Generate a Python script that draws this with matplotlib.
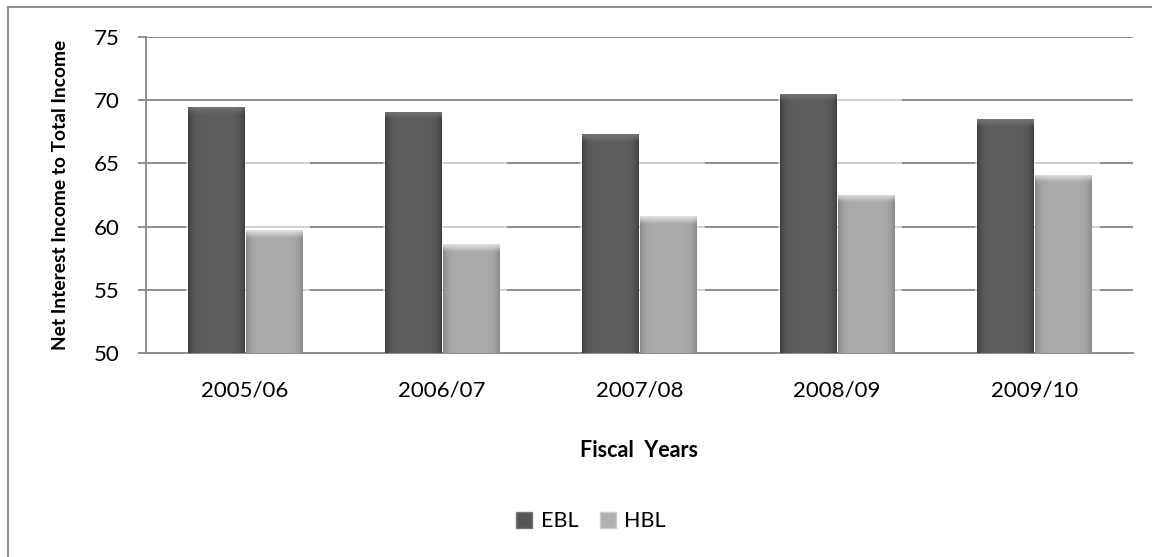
import numpy as np
import matplotlib
matplotlib.use("Agg")
import matplotlib.pyplot as plt
from matplotlib.patches import Patch, Rectangle
from matplotlib.lines import Line2D

# Data
years = ["2005/06", "2006/07", "2007/08", "2008/09", "2009/10"]
ebl = [69.5, 69.1, 67.3, 70.5, 68.5]
hbl = [59.7, 58.6, 60.8, 62.5, 64.1]
series_names = ["EBL", "HBL"]

plt.rcParams["font.family"] = ["Lato", "DejaVu Sans"]

fig = plt.figure(figsize=(11.52, 5.57), dpi=100)
ax = fig.add_axes([0.1267, 0.3662, 0.8568, 0.5674])

ymin, ymax = 50, 75
ax.set_ylim(ymin, ymax)
ax.set_xlim(-0.5, len(years) - 0.5)

width = 0.285
offset = 0.147
x = np.arange(len(years))


def shade(base, edge, top, value, bevel=0.6):
    """Build a shaded, bevelled gradient image for one bar."""
    h_rows, w_cols = 200, 60
    base = np.array(matplotlib.colors.to_rgb(base))
    edge = np.array(matplotlib.colors.to_rgb(edge))
    top = np.array(matplotlib.colors.to_rgb(top))
    u = np.linspace(-1, 1, w_cols)
    prof = np.clip(np.abs(u) ** 6, 0, 1)[None, :, None]
    img = base * (1 - prof) + edge * prof
    img = np.repeat(img, h_rows, axis=0)
    ys = np.linspace(value, ymin, h_rows)
    band = np.clip(1 - (value - ys) / bevel, 0, 1)[:, None, None]
    img = img * (1 - band * 0.8) + top * band * 0.8
    return img


bar_styles = [
    dict(base="#5e5e5e", edge="#3f3f3f", top="#7a7a7a"),
    dict(base="#ababab", edge="#8a8a8a", top="#f0f0f0"),
]

for i in range(len(years)):
    # soft backdrop behind each pair of bars
    top_val = max(ebl[i], hbl[i])
    ax.add_patch(Rectangle((x[i] - offset - width / 2 - 0.01, ymin),
                           2 * width + 0.06, top_val - ymin + 0.3,
                           facecolor="white", alpha=0.6, edgecolor="none",
                           zorder=1.5))

for vals, sign, st, name in [(ebl, -1, bar_styles[0], "EBL"),
                             (hbl, 1, bar_styles[1], "HBL")]:
    bars = ax.bar(x + sign * offset, vals, width=width, bottom=0,
                  color=st["base"], edgecolor="none", zorder=2, label=name)
    for b, v in zip(bars, vals):
        left = b.get_x()
        img = shade(st["base"], st["edge"], st["top"], v)
        im = ax.imshow(img, extent=(left, left + width, ymin, v),
                       aspect="auto", zorder=3, interpolation="bilinear")
        im.set_clip_path(b)

ax.set_ylim(ymin, ymax)
ax.set_xlim(-0.5, len(years) - 0.5)

# Grid and axes styling
ax.set_yticks(np.arange(50, 76, 5))
ax.yaxis.grid(True, color="#8c8c8c", linewidth=1.4, zorder=0)
ax.set_axisbelow(True)
for s in ["top", "right"]:
    ax.spines[s].set_visible(False)
for s in ["left", "bottom"]:
    ax.spines[s].set_color("#8c8c8c")
    ax.spines[s].set_linewidth(1.4)

ax.set_xticks(x)
ax.set_xticklabels(years)
ax.tick_params(axis="x", length=0, pad=20, labelsize=16, colors="black")
ax.tick_params(axis="y", length=6, width=1.4, color="#8c8c8c", pad=13,
               labelsize=16)

ax.set_xlabel("Fiscal  Years", fontsize=15.5, fontweight="bold", labelpad=28)
ax.set_ylabel("Net Interest Income to Total Income", fontsize=13.8,
              fontweight="bold", labelpad=18)

handles = [Patch(facecolor="#555555", edgecolor="#777777"),
           Patch(facecolor="#b0b0b0", edgecolor="#cccccc")]
fig.legend(handles, series_names, loc="center", bbox_to_anchor=(0.513, 0.064),
           ncol=2, frameon=False, fontsize=15.5, handlelength=0.75,
           handleheight=0.75, handletextpad=0.4, columnspacing=1.0)

# Chart-area border on left and top
fig.add_artist(Line2D([0.007, 0.007], [0.0, 0.987], transform=fig.transFigure,
                      color="#8c8c8c", linewidth=1.4))
fig.add_artist(Line2D([0.007, 1.0], [0.987, 0.987], transform=fig.transFigure,
                      color="#8c8c8c", linewidth=1.4))

fig.savefig("out.png", dpi=100, facecolor="white")
